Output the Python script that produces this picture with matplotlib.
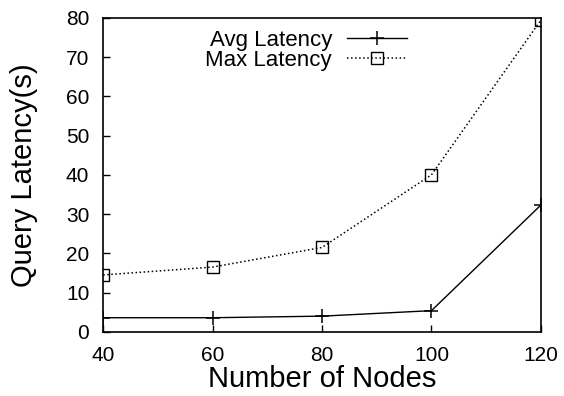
import matplotlib
matplotlib.use("Agg")
import matplotlib.pyplot as plt

nodes = [40, 60, 80, 100, 120]
avg_latency = [3.6, 3.6, 4.0, 5.4, 32.3]
max_latency = [14.5, 16.5, 21.5, 40.0, 79.4]

plt.rcParams["font.family"] = ["Liberation Sans", "DejaVu Sans"]

fig = plt.figure(figsize=(5.64, 3.96), dpi=100)
ax = fig.add_axes([0.183, 0.162, 0.776, 0.793])

ax.plot(nodes, avg_latency, "-", color="black", lw=1.0, marker="+", ms=10, mew=1.1,
        label="Avg Latency")
ax.plot(nodes, max_latency, ":", color="black", lw=1.1, marker="s", ms=8, mew=1.0,
        mfc="none", label="Max Latency")

ax.set_xlim(40, 120)
ax.set_ylim(0, 80)
ax.set_xticks(nodes)
ax.set_yticks(range(0, 81, 10))
ax.tick_params(direction="in", length=5, width=1, labelsize=15)
ax.tick_params(axis="x", pad=10)
ax.tick_params(axis="y", pad=10)
for s in ax.spines.values():
    s.set_linewidth(1.2)
ax.set_xlabel("Number of Nodes", fontsize=21, labelpad=0)
ax.set_ylabel("Query Latency(s)", fontsize=21, labelpad=20)

ax.legend(loc="upper right", bbox_to_anchor=(0.721, 1.0), frameon=False,
          markerfirst=False, fontsize=16, handlelength=2.7, handletextpad=0.65,
          labelspacing=-0.05, borderaxespad=0.15)

fig.savefig("out.png", dpi=100)
